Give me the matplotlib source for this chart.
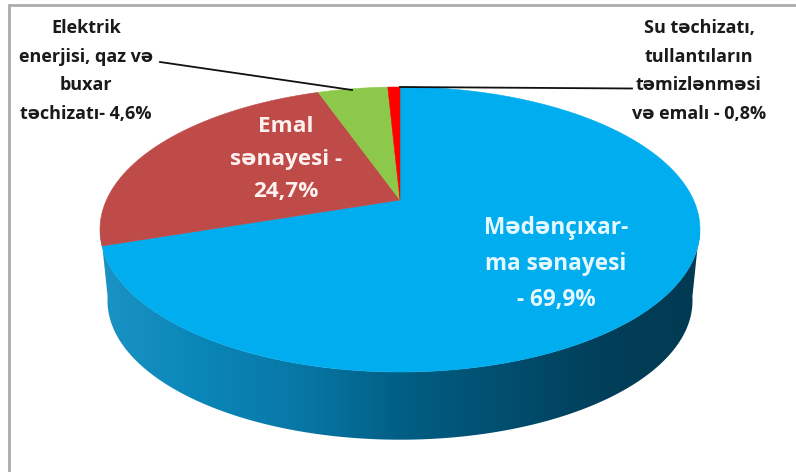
import numpy as np
import matplotlib
matplotlib.use('Agg')
import matplotlib.pyplot as plt
from matplotlib.colors import LinearSegmentedColormap
from matplotlib.patches import Polygon

plt.rcParams['font.family'] = ['Open Sans', 'DejaVu Sans']

shares = [69.9, 24.7, 4.6, 0.8]
slice_colors = ['#00aeef', '#be4b48', '#8cc94a', '#ff0000']
labels = ['Mədənçıxar-\nma sənayesi\n- 69,9%', 'Emal\nsənayesi -\n24,7%',
          'Elektrik\nenerjisi, qaz və\nbuxar\ntəchizatı- 4,6%',
          'Su təchizatı,\ntullantıların\ntəmizlənməsi\nvə emalı - 0,8%']
side_colors = ['#1b93c4', '#0a86b8', '#0877a6', '#015f85', '#014f70', '#023f5a', '#013a52']

# projection of the tilted disc, in image pixels
CX, CY = 400, 200
A, B, K = 293.5, 136.4, 0.207


def rim(theta, scale=1.0, drop=0.0):
  # theta runs clockwise from 12 o'clock
  u, v = np.sin(theta), np.cos(theta)
  w = 1 + K * v
  return np.column_stack([CX + scale * A * u / w, CY + drop - scale * B * v / w])


fig = plt.figure(figsize=(7.96, 4.72), dpi=100)
ax = fig.add_axes([0, 0, 1, 1])
ax.set_xlim(0, 796)
ax.set_ylim(472, 0)
ax.axis('off')

# outer frame, only top and left show
ax.plot([8.5, 8.5, 796], [472, 5, 5], color='#ababab', lw=2, solid_joinstyle='miter')

# side wall with horizontal gradient
th = np.linspace(np.pi / 2 + 0.18, 3 * np.pi / 2 - 0.18, 200)
top_edge = rim(th)
bot_edge = rim(th[::-1], 0.975, 72)
wall = Polygon(np.vstack([top_edge, bot_edge]), closed=True, transform=ax.transData,
               fc='none', ec='none')
ax.add_patch(wall)
cmap = LinearSegmentedColormap.from_list('side', side_colors)
im = ax.imshow(np.linspace(0, 1, 256)[None, :], cmap=cmap, aspect='auto',
               extent=[100, 700, 445, 225], zorder=1)
im.set_clip_path(wall)
ax.set_xlim(0, 796)
ax.set_ylim(472, 0)

# top face slices
edges = np.cumsum([0] + shares) / sum(shares) * 2 * np.pi
for i, col in enumerate(slice_colors):
  t = np.linspace(edges[i], edges[i + 1], 200)
  pts = np.vstack([[CX, CY], rim(t)])
  ax.add_patch(Polygon(pts, closed=True, fc=col, ec=col, lw=0.4, zorder=2))

# leader lines
ax.plot([160, 352], [62, 90], color='#111111', lw=1.3, zorder=3)
ax.plot([400, 632], [87, 88.5], color='#111111', lw=1.3, zorder=3)

ax.text(556, 264, labels[0], color='#e6f8ff', fontsize=16.3, fontweight='bold',
        ha='center', va='center', linespacing=1.65, zorder=4)
ax.text(286, 159, labels[1], color='#fdf0ef', fontsize=16.2, fontweight='bold',
        ha='center', va='center', linespacing=1.75, zorder=4)
ax.text(86, 71, labels[2], color='#1a1a1a', fontsize=13, fontweight='bold',
        ha='center', va='center', linespacing=1.75, zorder=4)
ax.text(699, 71, labels[3], color='#1a1a1a', fontsize=13, fontweight='bold',
        ha='center', va='center', linespacing=1.75, zorder=4)

fig.savefig('out.png', dpi=100)
